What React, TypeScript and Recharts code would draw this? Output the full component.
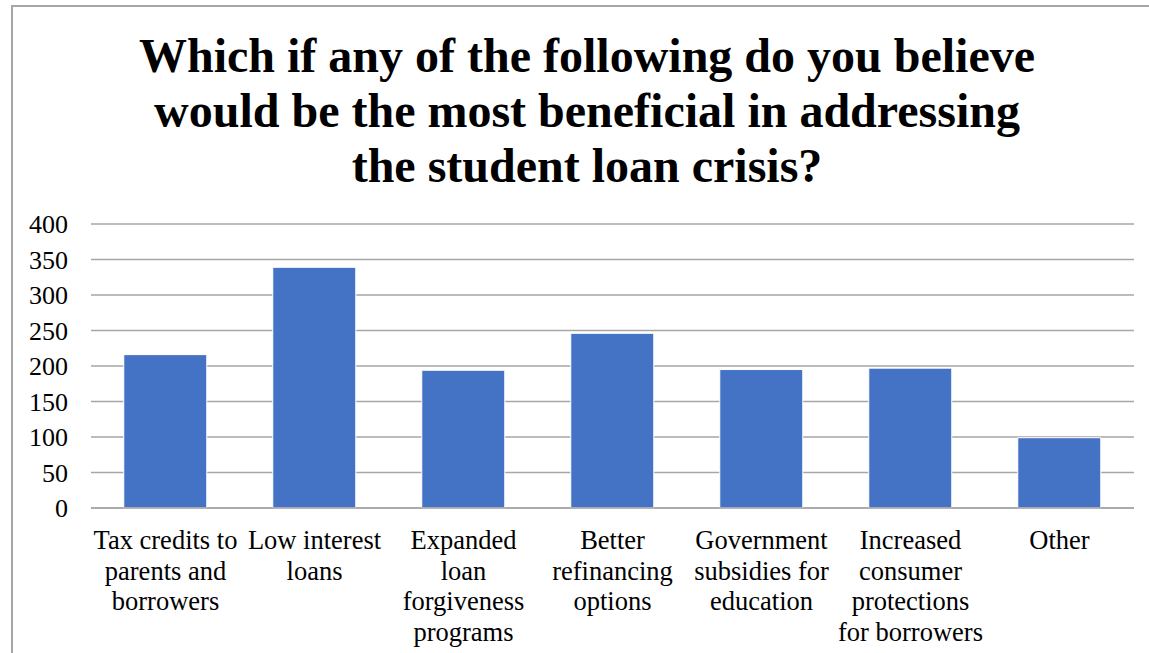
import { BarChart, Bar, XAxis, YAxis, CartesianGrid } from 'recharts';

const categories = [
  'Tax credits to parents and borrowers',
  'Low interest loans',
  'Expanded loan forgiveness programs',
  'Better refinancing options',
  'Government subsidies for education',
  'Increased consumer protections for borrowers',
  'Other',
];

// how the axis labels wrap in the original
const tickLines = [
  ['Tax credits to', 'parents and', 'borrowers'],
  ['Low interest', 'loans'],
  ['Expanded', 'loan', 'forgiveness', 'programs'],
  ['Better', 'refinancing', 'options'],
  ['Government', 'subsidies for', 'education'],
  ['Increased', 'consumer', 'protections', 'for borrowers'],
  ['Other'],
];

const responses = [216, 339, 194, 246, 195, 197, 99];

const yTicks = [0, 50, 100, 150, 200, 250, 300, 350, 400];

const titleLines = [
  'Which if any of the following do you believe',
  'would be the most beneficial in addressing',
  'the student loan crisis?',
];

const FONT = '"Liberation Serif", "Times New Roman", serif';

const chartData = categories.map((c, i) => ({ name: c, value: responses[i] }));

function CategoryTick(props: any) {
  const { x, y, index } = props;
  const lines = tickLines[index] || [];
  return (
    <text x={x} y={y} textAnchor="middle" fontFamily={FONT} fontSize={26.5} fill="#000">
      {lines.map((l, i) => (
        <tspan key={i} x={x} dy={i === 0 ? 39 : 30.5}>
          {l}
        </tspan>
      ))}
    </text>
  );
}

export default function App() {
  return (
    <div
      style={{
        position: 'fixed',
        left: 0,
        top: 0,
        width: 1149,
        height: 653,
        overflow: 'hidden',
        background: '#fff',
        fontFamily: FONT,
      }}
    >
      {/* chart frame */}
      <div style={{ position: 'absolute', left: 11, top: 5, width: 1200, height: 700, borderLeft: '2px solid #a6a6a6', borderTop: '2px solid #a6a6a6' }} />
      <div
        style={{
          position: 'absolute',
          left: 0,
          top: 28,
          width: 1174,
          textAlign: 'center',
          fontWeight: 'bold',
          fontSize: 48,
          lineHeight: '55px',
          color: '#000',
        }}
      >
        {titleLines.map((t) => (
          <div key={t}>{t}</div>
        ))}
      </div>
      <div style={{ position: 'absolute', left: 0, top: 0 }}>
        <BarChart
          width={1149}
          height={653}
          data={chartData}
          margin={{ top: 224, right: 15, bottom: 0, left: 0 }}
          barCategoryGap="22%"
        >
          <CartesianGrid vertical={false} stroke="#a6a6a6" strokeWidth={1.3} />
          <XAxis
            dataKey="name"
            interval={0}
            axisLine={{ stroke: '#a6a6a6', strokeWidth: 1.3 }}
            tickLine={false}
            tickSize={0}
            tick={<CategoryTick />}
            height={145}
          />
          <YAxis
            domain={[0, 400]}
            ticks={yTicks}
            interval={0}
            width={91}
            axisLine={false}
            tickLine={false}
            tickSize={0}
            tickMargin={23}
            tick={{ fontFamily: FONT, fontSize: 26, fill: '#000' }}
          />
          <Bar dataKey="value" fill="#4472c4" stroke="#ffffff" strokeWidth={1} isAnimationActive={false} />
        </BarChart>
      </div>
    </div>
  );
}
